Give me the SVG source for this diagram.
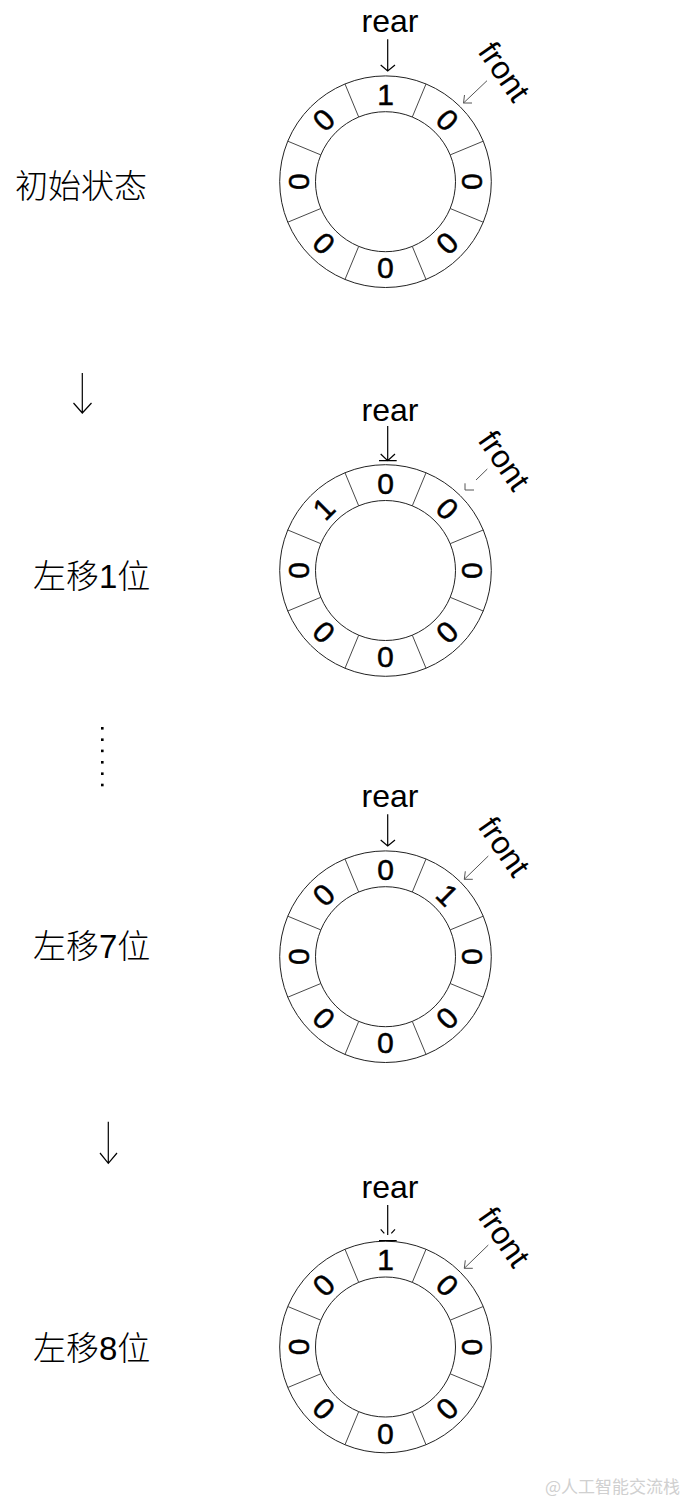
<svg xmlns="http://www.w3.org/2000/svg" xmlns:xlink="http://www.w3.org/1999/xlink" width="690" height="1500" viewBox="0 0 690 1500">
<style>
.ring{fill:none;stroke:#222;stroke-width:1}
.div{fill:none;stroke:#333;stroke-width:0.9}
.d{font-family:"Liberation Sans",Arial,sans-serif;font-size:30px;text-anchor:middle;fill:#000;stroke:#000;stroke-width:0.5}
.lbl{font-family:"Liberation Sans",Arial,sans-serif;font-size:32px;text-anchor:middle;fill:#000}
.cn{font-family:"Liberation Sans","Noto Sans CJK SC",sans-serif;font-size:33px;font-weight:300;fill:#000}
.rear{fill:none;stroke:#000;stroke-width:1.2}
.front{fill:none;stroke:#555;stroke-width:1}
.arr{fill:none;stroke:#000;stroke-width:1.2}
</style>
<defs>
<g id="ringShape">
<circle class="ring" r="105.8"/>
<circle class="ring" r="70"/>
<path class="div" d="M40.5,-97.7L26.8,-64.7M97.7,-40.5L64.7,-26.8M97.7,40.5L64.7,26.8M40.5,97.7L26.8,64.7M-40.5,97.7L-26.8,64.7M-97.7,40.5L-64.7,26.8M-97.7,-40.5L-64.7,-26.8M-40.5,-97.7L-26.8,-64.7"/>
</g>
</defs>

<g id="label1"><text class="cn" x="15" y="197.5">初始状态</text></g>
<g id="label2"><text class="cn" x="33" y="587.5">左移1位</text></g>
<g id="label3"><text class="cn" x="33" y="957.5">左移7位</text></g>
<g id="label4"><text class="cn" x="33" y="1359.5">左移8位</text></g>

<g id="connectors">
<path class="arr" d="M82.3,373V413M73.5,403L82.3,413L91.5,403"/>
<path class="arr" d="M108.3,1121.7V1163.3M100,1153L108.3,1163.3L117,1153"/>
<g fill="#000">
<rect x="101" y="727" width="2.6" height="2.6"/>
<rect x="101" y="738.4" width="2.6" height="2.6"/>
<rect x="101" y="749.6" width="2.6" height="2.6"/>
<rect x="101" y="761" width="2.6" height="2.6"/>
<rect x="101" y="772.4" width="2.6" height="2.6"/>
<rect x="101" y="783.7" width="2.6" height="2.6"/>
</g>
</g>

<g id="ring1" transform="translate(385.5,181.7)">
<use xlink:href="#ringShape" href="#ringShape"/>
<text class="d" transform="rotate(0)" y="-76.8">1</text>
<text class="d" transform="rotate(45)" y="-76.8">0</text>
<text class="d" transform="rotate(90)" y="-76.8">0</text>
<text class="d" transform="rotate(135)" y="-76.8">0</text>
<text class="d" transform="rotate(180)" y="-76.8">0</text>
<text class="d" transform="rotate(225)" y="-76.8">0</text>
<text class="d" transform="rotate(270)" y="-76.8">0</text>
<text class="d" transform="rotate(315)" y="-76.8">0</text>
<text class="lbl" x="4.5" y="-149.3">rear</text>
<path class="rear" d="M2.2,-142.4V-110.7M-4.8,-116.7L2.2,-110.7L9.5,-116.7"/>
<text class="lbl" transform="translate(119.2,-110.4) rotate(55)" y="11.5">front</text>
<path class="front" d="M101.5,-101L78,-78.7M79,-86.7L78,-78.7L86.5,-78.7"/>
</g>

<g id="ring2" transform="translate(385.5,570.5)">
<use xlink:href="#ringShape" href="#ringShape"/>
<text class="d" transform="rotate(0)" y="-76.8">0</text>
<text class="d" transform="rotate(45)" y="-76.8">0</text>
<text class="d" transform="rotate(90)" y="-76.8">0</text>
<text class="d" transform="rotate(135)" y="-76.8">0</text>
<text class="d" transform="rotate(180)" y="-76.8">0</text>
<text class="d" transform="rotate(225)" y="-76.8">0</text>
<text class="d" transform="rotate(270)" y="-76.8">0</text>
<text class="d" transform="rotate(315)" y="-76.8">1</text>
<text class="lbl" x="4.5" y="-149.3">rear</text>
<path class="rear" d="M2.2,-144.5V-109.8M-4.8,-116.5L2.2,-109.8L9.5,-116.5M-6.5,-109.8H11.2"/>
<text class="lbl" transform="translate(119.2,-110.4) rotate(55)" y="11.5">front</text>
<path class="front" d="M101.8,-101.5L90.5,-90.5M79.5,-87.2V-80.5H88.5"/>
</g>

<g id="ring3" transform="translate(385.5,956.7)">
<use xlink:href="#ringShape" href="#ringShape"/>
<text class="d" transform="rotate(0)" y="-76.8">0</text>
<text class="d" transform="rotate(45)" y="-76.8">1</text>
<text class="d" transform="rotate(90)" y="-76.8">0</text>
<text class="d" transform="rotate(135)" y="-76.8">0</text>
<text class="d" transform="rotate(180)" y="-76.8">0</text>
<text class="d" transform="rotate(225)" y="-76.8">0</text>
<text class="d" transform="rotate(270)" y="-76.8">0</text>
<text class="d" transform="rotate(315)" y="-76.8">0</text>
<text class="lbl" x="4.5" y="-149.3">rear</text>
<path class="rear" d="M2.2,-142.4V-110.7M-4.8,-116.7L2.2,-110.7L9.5,-116.7"/>
<text class="lbl" transform="translate(119.2,-110.4) rotate(55)" y="11.5">front</text>
<path class="front" d="M102.8,-100.7L78.8,-77.4M79.8,-85.4L78.8,-77.4L87.3,-77.4"/>
</g>

<g id="ring4" transform="translate(385.5,1347)">
<use xlink:href="#ringShape" href="#ringShape"/>
<text class="d" transform="rotate(0)" y="-76.8">1</text>
<text class="d" transform="rotate(45)" y="-76.8">0</text>
<text class="d" transform="rotate(90)" y="-76.8">0</text>
<text class="d" transform="rotate(135)" y="-76.8">0</text>
<text class="d" transform="rotate(180)" y="-76.8">0</text>
<text class="d" transform="rotate(225)" y="-76.8">0</text>
<text class="d" transform="rotate(270)" y="-76.8">0</text>
<text class="d" transform="rotate(315)" y="-76.8">0</text>
<text class="lbl" x="4.5" y="-149.3">rear</text>
<path class="rear" d="M2.2,-142V-112M-4.8,-117.7L-1.2,-113.7M9.5,-117.7L5.8,-113.7M-6.5,-106.3H11.2"/>
<text class="lbl" transform="translate(119.2,-110.4) rotate(55)" y="11.5">front</text>
<path class="front" d="M102.8,-102L78.8,-78.7M79.8,-86.7L78.8,-78.7L87.3,-78.7"/>
</g>

<g id="watermark"><text x="545" y="1493" font-family="'Noto Sans CJK SC',sans-serif" font-size="17" fill="#d0d0d0">@人工智能交流栈</text></g>
</svg>
